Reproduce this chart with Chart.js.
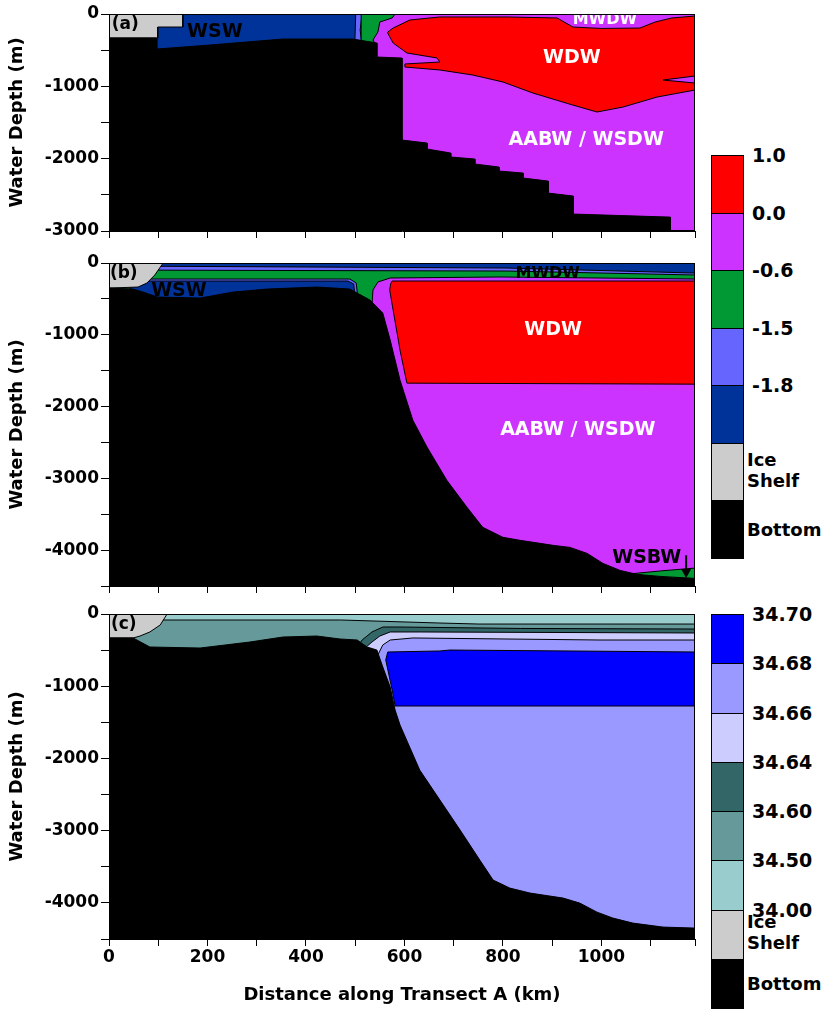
<!DOCTYPE html>
<html>
<head>
<meta charset="utf-8">
<script src="https://cdn.jsdelivr.net/npm/chart.js@4.4.1/dist/chart.umd.min.js"></script>
<style>
  body { margin: 0; background: #fff; width: 824px; height: 1011px; position: relative; overflow: hidden;
         font-family: "DejaVu Sans", sans-serif; font-weight: bold; color: #000; }
  canvas { position: absolute; left: 0; }
  .blk { position: absolute; left: 711px; width: 33px; box-sizing: border-box; border: 1px solid #000; }
  .lbl { position: absolute; white-space: nowrap; transform: translateY(-50%); }
</style>
</head>
<body>
<canvas id="panelA" width="700" height="245" style="top:0px"></canvas>
<canvas id="panelB" width="700" height="351" style="top:249px"></canvas>
<canvas id="panelC" width="700" height="411" style="top:600px"></canvas>
<div id="legends"></div>
<script>
// ---- axes ----
const xTicks = [0, 100, 200, 300, 400, 500, 600, 700, 800, 900, 1000, 1100, 1190];
const xLabelled = [0, 200, 400, 600, 800, 1000];
const yTicksA = [0, -500, -1000, -1500, -2000, -2500, -3000];
const yTicksBC = [0, -500, -1000, -1500, -2000, -2500, -3000, -3500, -4000, -4500];

// ---- panel (a): water masses, [km, depth m] ----
const backA   = [[0, 0], [1190, 0], [1190, -3000], [0, -3000]];
const wswA    = [[60, 0], [504, 0], [504, -700], [60, -700]];
const lightA  = [[501, 0], [514, 0], [510, -221], [514, -450], [499, -450]];
const greenA  = [[512, 0], [581, 0], [575, -55], [550, -111], [546, -249], [536, -360], [544, -450], [512, -450]];
const wdwA    = [[566, -249], [577, -194], [611, -83], [672, -41], [808, -41], [910, -55], [942, -180], [1000, -200],
                 [1078, -194], [1109, -111], [1143, -55], [1190, -28], [1190, -857], [1125, -913], [1190, -954],
                 [1190, -1051], [1113, -1148], [1044, -1286], [991, -1355], [942, -1259], [861, -1093], [800, -940],
                 [739, -844], [672, -774], [601, -733], [601, -691], [672, -664], [666, -608], [605, -539],
                 [577, -401], [566, -263]];
const iceA    = [[0, 0], [150, 0], [150, -180], [99, -180], [99, -332], [0, -332]];
const bottomA = [[0, -332], [97, -332], [97, -484], [205, -429], [353, -346], [495, -346], [544, -401], [544, -595],
                 [595, -609], [595, -1743], [646, -1784], [646, -1867], [694, -1922], [694, -1977], [743, -2005],
                 [743, -2074], [792, -2116], [792, -2171], [841, -2199], [841, -2268], [892, -2310], [892, -2476],
                 [943, -2517], [943, -2766], [1140, -2808], [1140, -3000], [0, -3000]];

// ---- panel (b) ----
const backB    = [[0, 0], [1190, 0], [1190, -4500], [0, -4500]];
const greenB   = [[0, 0], [1190, 0], [1190, -223], [794, -195], [571, -209], [546, -265], [536, -377], [534, -586],
                  [546, -684], [489, -684], [0, -684]];
const lightB   = [[0, 0], [1190, 0], [1190, -167], [808, -112], [0, -98]];
const topBlueB = [[0, 0], [1190, 0], [1190, -140], [808, -70], [0, -42]];
const wswEdgeB = [[43, -223], [489, -223], [502, -279], [506, -516], [43, -516]];
const wswB     = [[43, -251], [485, -251], [497, -293], [500, -516], [43, -516]];
const wdwB     = [[575, -251], [1190, -251], [1190, -1688], [605, -1674], [591, -1214], [577, -656], [570, -377], [572, -290]];
const wsbwB    = [[1060, -4330], [1120, -4290], [1190, -4250], [1190, -4500], [1060, -4500]];
const iceB     = [[0, 0], [110, 0], [93, -167], [77, -279], [59, -335], [0, -349]];
const bottomB  = [[0, -349], [49, -363], [69, -405], [98, -474], [185, -488], [252, -405], [321, -363], [422, -335],
                  [489, -363], [530, -516], [556, -698], [571, -1074], [591, -1632], [617, -2190], [646, -2567],
                  [686, -3027], [727, -3404], [759, -3683], [800, -3822], [835, -3864], [902, -3934], [936, -3962],
                  [971, -4046], [1003, -4185], [1038, -4283], [1072, -4338], [1119, -4366], [1190, -4394],
                  [1190, -4500], [0, -4500]];

// ---- panel (c): salinity ----
const backC     = [[0, 0], [1190, 0], [1190, -4500], [0, -4500]];
const paleLavC  = [[0, 0], [1190, 0], [1190, -360], [997, -360], [617, -332], [571, -360], [556, -429], [546, -568],
                   [534, -637], [0, -637]];
const blueC     = [[566, -526], [672, -512], [692, -499], [1190, -526], [1190, -1274], [581, -1274], [575, -1053], [562, -637]];
const darkTealC = [[0, 0], [1190, 0], [1190, -263], [632, -249], [571, -249], [550, -305], [534, -388], [520, -471], [0, -471]];
const tealC     = [[0, 0], [1190, 0], [1190, -208], [835, -200], [591, -180], [556, -180], [534, -249], [514, -360],
                   [500, -499], [0, -499]];
const paleTealC = [[0, 0], [1190, 0], [1190, -139], [751, -139], [672, -125], [470, -83], [0, -83]];
const iceC      = [[0, 0], [118, 0], [104, -152], [83, -249], [63, -305], [49, -332], [0, -332]];
const bottomC   = [[0, -332], [49, -332], [83, -457], [185, -471], [286, -388], [353, -319], [422, -305], [469, -346],
                   [504, -360], [524, -457], [544, -499], [556, -734], [571, -1011], [581, -1330], [591, -1537],
                   [631, -2161], [672, -2576], [713, -2992], [753, -3407], [780, -3684], [814, -3795], [855, -3864],
                   [922, -3933], [956, -4003], [991, -4128], [1023, -4210], [1064, -4280], [1125, -4335],
                   [1190, -4349], [1190, -4500], [0, -4500]];

// ---- colour keys ----
const tempColors = ['#FF0000', '#CC33FF', '#009933', '#6666FF', '#003399', '#CCCCCC', '#000000'];
const tempLabels = ['1.0', '0.0', '-0.6', '-1.5', '-1.8'];
const salColors = ['#0000FF', '#9999FF', '#CCCCFF', '#336666', '#669999', '#99CCCC', '#CCCCCC', '#000000'];
const salLabels = ['34.70', '34.68', '34.66', '34.64', '34.60', '34.50', '34.00'];

function poly(points, color, border) {
  const pts = points.concat([points[0]]);
  return {
    data: pts.map(p => ({x: p[0], y: p[1]})),
    showLine: true, fill: 'shape', tension: 0, pointRadius: 0,
    backgroundColor: color,
    borderColor: border === false ? color : '#000',
    borderWidth: border === false ? 0 : 1
  };
}

const overlay = {
  id: 'overlay',
  afterDatasetsDraw(chart, args, opts) {
    const {ctx, chartArea: a, scales: {x, y}} = chart;
    ctx.save();
    ctx.beginPath();
    ctx.rect(a.left, a.top, a.right - a.left, a.bottom - a.top);
    ctx.clip();
    ctx.textAlign = 'center';
    ctx.textBaseline = 'middle';
    (opts.items || []).forEach(it => {
      ctx.font = 'bold ' + it.size + 'px "DejaVu Sans"';
      ctx.fillStyle = it.color;
      ctx.fillText(it.text, x.getPixelForValue(it.x), y.getPixelForValue(it.y));
    });
    (opts.arrows || []).forEach(ar => {
      const px = x.getPixelForValue(ar.x), y1 = y.getPixelForValue(ar.from), y2 = y.getPixelForValue(ar.to);
      ctx.strokeStyle = '#000'; ctx.fillStyle = '#000'; ctx.lineWidth = 2;
      ctx.beginPath(); ctx.moveTo(px, y1); ctx.lineTo(px, y2 - 6); ctx.stroke();
      ctx.beginPath(); ctx.moveTo(px - 5, y2 - 9); ctx.lineTo(px + 5, y2 - 9); ctx.lineTo(px, y2); ctx.closePath(); ctx.fill();
    });
    ctx.restore();
    ctx.save();
    ctx.strokeStyle = '#000'; ctx.lineWidth = 1;
    ctx.strokeRect(a.left + 0.5, a.top + 0.5, a.right - a.left - 1, a.bottom - a.top - 1);
    ctx.restore();
  }
};
Chart.register(overlay);

const FONT = '"DejaVu Sans", sans-serif';

function makePanel(id, layers, yMin, yTicks, xAxisHeight, withXLabels, items, arrows) {
  const datasets = layers.map((l, i) => Object.assign(l, {order: layers.length - i}));
  new Chart(document.getElementById(id), {
    type: 'scatter',
    data: {datasets: datasets},
    options: {
      responsive: false, animation: false, events: [],
      layout: {padding: {top: 14, right: 5, left: 0, bottom: 0}},
      plugins: {legend: {display: false}, tooltip: {enabled: false}, overlay: {items: items, arrows: arrows}},
      scales: {
        x: {
          type: 'linear', min: 0, max: 1190,
          afterBuildTicks: s => { s.ticks = xTicks.map(v => ({value: v})); },
          afterFit: s => { s.height = xAxisHeight; },
          ticks: {autoSkip: false, maxRotation: 0, padding: 1, color: '#000',
                  font: {family: FONT, size: 17, weight: 'bold'},
                  callback: v => (withXLabels && xLabelled.includes(v)) ? String(v) : ''},
          grid: {drawOnChartArea: false, tickLength: 7, color: '#000'},
          border: {color: '#000'},
          title: {display: withXLabels, text: 'Distance along Transect A (km)', color: '#000',
                  font: {family: FONT, size: 18, weight: 'bold'}, padding: {top: 0, bottom: 5}}
        },
        y: {
          type: 'linear', min: yMin, max: 0,
          afterBuildTicks: s => { s.ticks = yTicks.map(v => ({value: v})); },
          afterFit: s => { s.width = 109; },
          ticks: {autoSkip: false, padding: 2, color: '#000',
                  font: {family: FONT, size: 17, weight: 'bold'},
                  callback: v => (v % 1000 === 0) ? String(v) : ''},
          grid: {drawOnChartArea: false, tickLength: 8, color: '#000'},
          border: {color: '#000'},
          title: {display: true, text: 'Water Depth (m)', color: '#000',
                  font: {family: FONT, size: 18, weight: 'bold'}, padding: {top: 7, bottom: 0}}
        }
      }
    }
  });
}

makePanel('panelA', [
  poly(backA, '#CC33FF', false),
  poly(wswA, '#003399'),
  poly(lightA, '#6666FF'),
  poly(greenA, '#009933'),
  poly(wdwA, '#FF0000'),
  poly(iceA, '#CCCCCC'),
  poly(bottomA, '#000000')
], -3000, yTicksA, 14, false, [
  {text: '(a)', x: 33, y: -152, color: '#000', size: 17},
  {text: 'WSW', x: 215, y: -249, color: '#000', size: 19},
  {text: 'MWDW', x: 1007, y: -83, color: '#fff', size: 16},
  {text: 'WDW', x: 940, y: -608, color: '#fff', size: 19},
  {text: 'AABW / WSDW', x: 969, y: -1743, color: '#fff', size: 19}
], []);

makePanel('panelB', [
  poly(backB, '#CC33FF', false),
  poly(greenB, '#009933'),
  poly(lightB, '#6666FF'),
  poly(topBlueB, '#003399'),
  poly(wswEdgeB, '#6666FF'),
  poly(wswB, '#003399'),
  poly(wdwB, '#FF0000'),
  poly(wsbwB, '#009933'),
  poly(iceB, '#CCCCCC'),
  poly(bottomB, '#000000')
], -4500, yTicksBC, 14, false, [
  {text: '(b)', x: 30, y: -153, color: '#000', size: 17},
  {text: 'WSW', x: 142, y: -391, color: '#000', size: 19},
  {text: 'MWDW', x: 891, y: -153, color: '#000', size: 16},
  {text: 'WDW', x: 902, y: -935, color: '#fff', size: 19},
  {text: 'AABW / WSDW', x: 952, y: -2330, color: '#fff', size: 19},
  {text: 'WSBW', x: 1092, y: -4115, color: '#000', size: 19}
], [{x: 1172, from: -4073, to: -4390}]);

makePanel('panelC', [
  poly(backC, '#9999FF', false),
  poly(paleLavC, '#CCCCFF'),
  poly(blueC, '#0000FF'),
  poly(darkTealC, '#336666'),
  poly(tealC, '#669999'),
  poly(paleTealC, '#99CCCC'),
  poly(iceC, '#CCCCCC'),
  poly(bottomC, '#000000')
], -4500, yTicksBC, 72, true, [
  {text: '(c)', x: 30, y: -152, color: '#000', size: 17}
], []);

// ---- colour keys (HTML) ----
function buildKey(colors, labels, top, bottom) {
  const box = document.getElementById('legends');
  const step = (bottom - top) / colors.length;
  colors.forEach((c, i) => {
    const d = document.createElement('div');
    d.className = 'blk';
    d.style.top = (top + i * step) + 'px';
    d.style.height = (step + 1) + 'px';
    d.style.background = c;
    box.appendChild(d);
  });
  labels.forEach((t, i) => {
    const l = document.createElement('div');
    l.className = 'lbl';
    l.style.left = '752px'; l.style.fontSize = '19px';
    l.style.top = (top + i * step) + 'px';
    l.textContent = t;
    box.appendChild(l);
  });
  const n = colors.length;
  const ice = document.createElement('div');
  ice.className = 'lbl';
  ice.style.left = '747px'; ice.style.fontSize = '18px'; ice.style.lineHeight = '21px';
  ice.style.top = (top + (n - 2) * step + step / 2 - 2) + 'px';
  ice.innerHTML = 'Ice<br>Shelf';
  box.appendChild(ice);
  const bot = document.createElement('div');
  bot.className = 'lbl';
  bot.style.left = '747px'; bot.style.fontSize = '18px';
  bot.style.top = (top + (n - 1) * step + step / 2) + 'px';
  bot.textContent = 'Bottom';
  box.appendChild(bot);
}
buildKey(tempColors, tempLabels, 155, 558);
buildKey(salColors, salLabels, 614, 1008);
</script>
</body>
</html>
